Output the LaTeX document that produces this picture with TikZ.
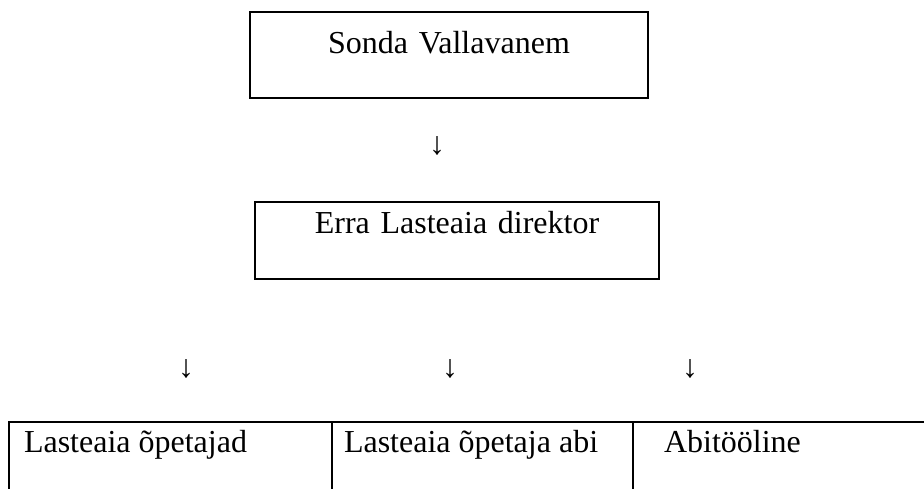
\documentclass[tikz,border=0pt]{standalone}
\usepackage{fontspec}
\setmainfont{Liberation Serif}
\usepackage{tikz}

\begin{document}
\begin{tikzpicture}[x=1pt, y=-1pt, line width=2pt,
    every node/.style={font=\fontsize{32}{38}\selectfont, inner sep=0pt},
    orgbox/.style={draw, rectangle, align=center, anchor=base},
    cell/.style={anchor=base west},
    down/.style={anchor=center}]
  \useasboundingbox (0,0) rectangle (924,489);

  % Nodes for the head boxes
  \node [orgbox, text width=398pt, text height=42pt, text depth=44pt] (vallavanem) at (449,54) {Sonda Vallavanem};
  \node [orgbox, text width=404pt, text height=32pt, text depth=45pt] (direktor) at (457,234) {Erra Lasteaia direktor\hspace*{11pt}};

  % Arrows (printed as text)
  \node [down] (arrowtop) at (437,146) {↓};
  \node [down] (arrowa) at (186,369) {↓};
  \node [down] (arrowb) at (450,369) {↓};
  \node [down] (arrowc) at (690,369) {↓};

  % Nodes for the staff row
  \node [cell] (opetajad) at (23,452) {Lasteaia õpetajad};
  \node [cell] (abi) at (343,452) {Lasteaia õpetaja abi};
  \node [cell] (abitooline) at (663,452) {Abitööline};

  % Lines of the staff row
  \draw (9,489) -- (9,422) -- (924,422);
  \draw (332,422) -- (332,489);
  \draw (633,422) -- (633,489);
\end{tikzpicture}
\end{document}
